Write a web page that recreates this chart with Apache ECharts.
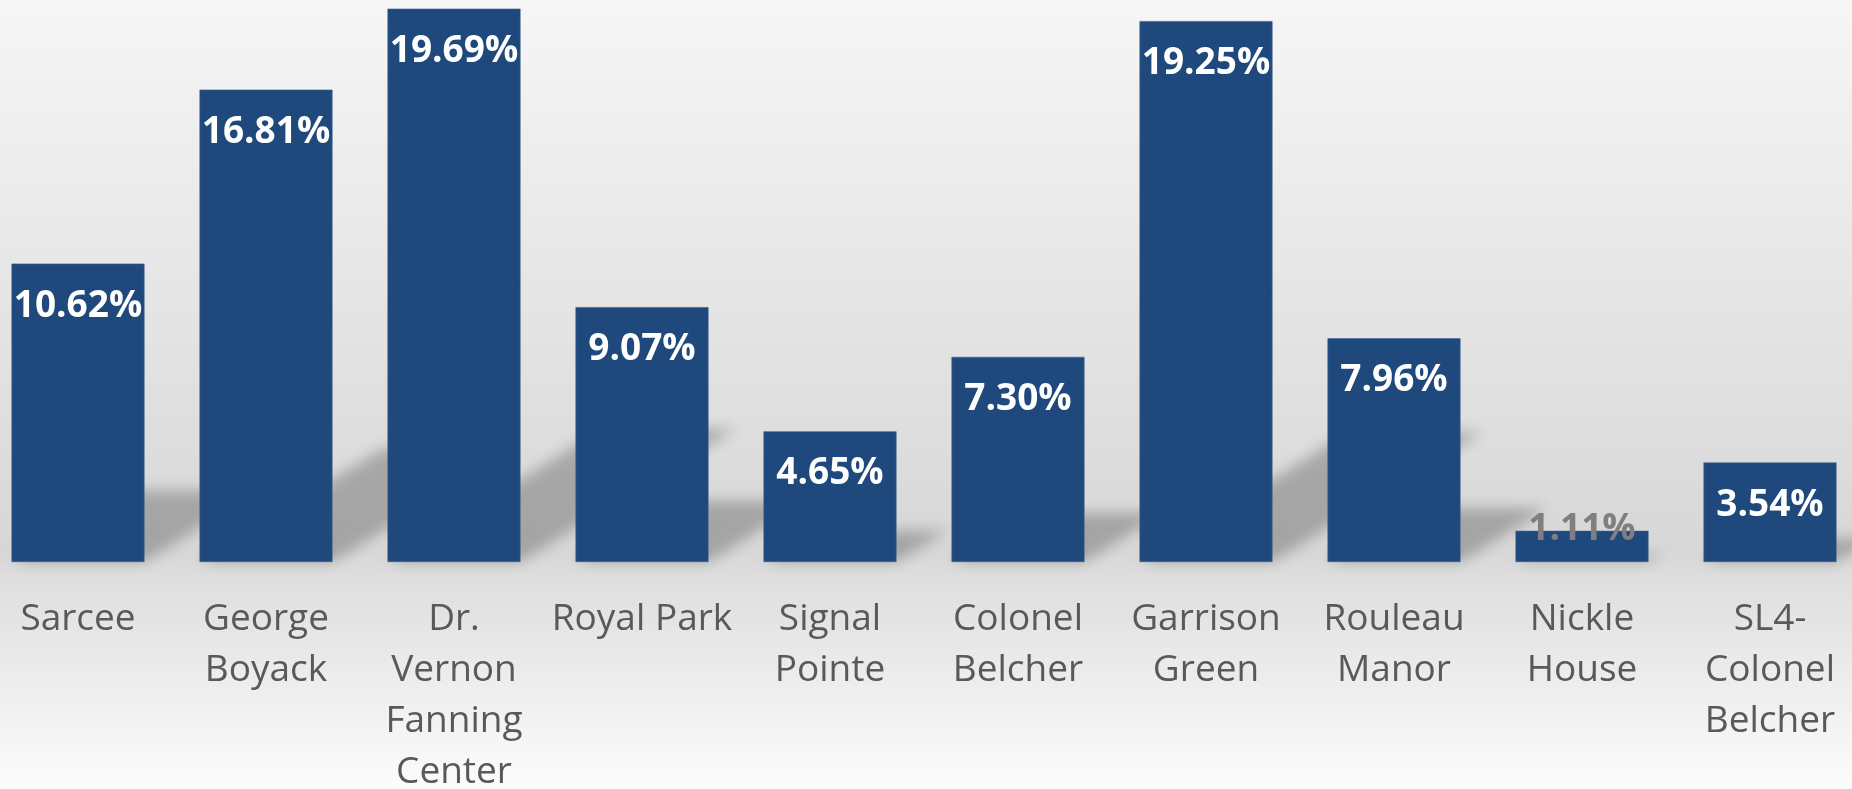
<!DOCTYPE html>
<html>
<head>
<meta charset="utf-8">
<title>Share by site</title>
<script src="https://cdn.jsdelivr.net/npm/echarts@6/dist/echarts.min.js"></script>
<style>
  html, body { margin: 0; padding: 0; }
  #chart { width: 1852px; height: 789px; }
</style>
</head>
<body>
<div id="chart"></div>
<script>
// categories (line breaks as in the picture)
const sites = [
  "Sarcee",
  "George\nBoyack",
  "Dr.\nVernon\nFanning\nCenter",
  "Royal Park",
  "Signal\nPointe",
  "Colonel\nBelcher",
  "Garrison\nGreen",
  "Rouleau\nManor",
  "Nickle\nHouse",
  "SL4-\nColonel\nBelcher"
];
// share in %
const shares = [10.62, 16.81, 19.69, 9.07, 4.65, 7.30, 19.25, 7.96, 1.11, 3.54];

const barColor = "#1f497d";
const barW = 133;

const chart = echarts.init(document.getElementById("chart"));

// skewed perspective shadow behind each bar, blurred through canvas shadow
function shadowItem(params, api) {
  const idx = api.value(0);
  const v = api.value(1);
  const base = api.coord([idx, 0]);
  const top = api.coord([idx, v]);
  const h = base[1] - top[1];
  const hs = h * 0.24;
  const d = hs / 0.62;
  const x0 = base[0] - barW / 2, x1 = base[0] + barW / 2, y = base[1];
  const off = 3000;
  return {
    type: "polygon",
    shape: {
      points: [[x0, y - off], [x1, y - off], [x1 + d, y - hs - off], [x0 + d, y - hs - off]]
    },
    style: {
      fill: "#000",
      shadowColor: "rgba(0,0,0,0.24)",
      shadowBlur: 14,
      shadowOffsetY: off
    },
    silent: true
  };
}

const option = {
  animation: false,
  backgroundColor: {
    type: "linear", x: 0, y: 0, x2: 0, y2: 1,
    colorStops: [
      { offset: 0, color: "#f6f6f6" },
      { offset: 0.70, color: "#d7d7d7" },
      { offset: 0.73, color: "#dedede" },
      { offset: 1, color: "#fcfcfc" }
    ]
  },
  grid: { left: -16, right: -12, top: 0, bottom: 227, containLabel: false, outerBoundsMode: "none" },
  xAxis: {
    type: "category",
    data: sites,
    axisLine: { show: false },
    axisTick: { show: false },
    axisLabel: {
      interval: 0,
      margin: 32,
      color: "#595959",
      fontFamily: "Open Sans",
      fontSize: 37,
      lineHeight: 51
    }
  },
  yAxis: {
    type: "value",
    min: 0,
    max: 20,
    show: false,
    splitLine: { show: false }
  },
  series: [
    {
      type: "custom",
      renderItem: shadowItem,
      data: shares.map((v, i) => [i, v]),
      z: 1
    },
    {
      type: "bar",
      data: shares.map((v, i) => {
        if (v < 2) {
          return {
            value: v,
            label: { position: "top", distance: -17, color: "#7f7f7f" }
          };
        }
        return v;
      }),
      barWidth: barW,
      z: 3,
      itemStyle: { color: barColor, borderColor: "#3a5f8f", borderWidth: 0.6 },
      label: {
        show: true,
        position: "insideTop",
        distance: 24,
        color: "#ffffff",
        fontFamily: "Open Sans",
        fontWeight: "bold",
        fontSize: 37,
        formatter: p => p.value.toFixed(2) + "%"
      }
    }
  ]
};

chart.setOption(option);
</script>
</body>
</html>
